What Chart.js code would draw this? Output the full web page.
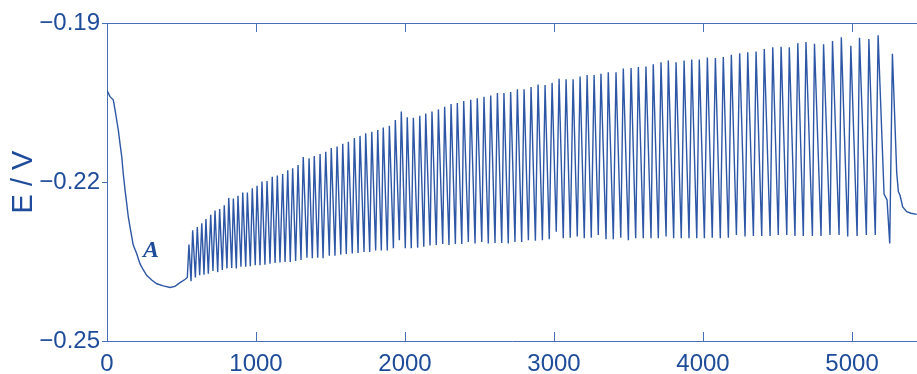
<!DOCTYPE html>
<html>
<head>
<meta charset="utf-8">
<script src="https://cdn.jsdelivr.net/npm/chart.js@4.4.1/dist/chart.umd.min.js"></script>
<style>
  html, body { margin: 0; padding: 0; background: #ffffff; overflow: hidden; }
  canvas { display: block; }
</style>
</head>
<body>
<canvas id="c" width="917" height="374"></canvas>
<script>
// Potential transient before the oscillations start (t in s, E in V)
const preTime = [0, 20, 42, 54, 65, 76, 87, 99, 109, 121, 132, 143, 154, 166, 176, 199, 221, 244, 266, 300, 334, 378, 423, 456, 490, 523, 539];
const preE = [-0.2027, -0.2039, -0.2045, -0.2064, -0.2083, -0.2102, -0.2127, -0.2152, -0.2184, -0.2215, -0.2240, -0.2266, -0.2284, -0.2303, -0.2319, -0.2335, -0.2354, -0.2366, -0.2376, -0.2385, -0.2392, -0.2396, -0.2399, -0.2397, -0.2390, -0.2384, -0.2380];

// Oscillation maxima
const peakTime = [
  550, 575, 606, 636, 664, 696, 725, 756, 787, 817,
  848, 879, 911, 942, 975, 1007, 1040, 1074, 1109, 1143,
  1179, 1213, 1246, 1282, 1317, 1356, 1391, 1430, 1468, 1505,
  1544, 1582, 1620, 1660, 1698, 1736, 1777, 1817, 1854, 1895,
  1935, 1975, 2015, 2056, 2099, 2139, 2181, 2224, 2266, 2309,
  2351, 2394, 2441, 2485, 2530, 2575, 2620, 2664, 2709, 2754,
  2799, 2846, 2893, 2940, 2987, 3034, 3081, 3128, 3175, 3222,
  3269, 3315, 3364, 3416, 3465, 3517, 3566, 3617, 3666, 3718,
  3767, 3819, 3873, 3924, 3975, 4029, 4083, 4136, 4190, 4246,
  4300, 4356, 4411, 4468, 4524, 4579, 4636, 4691, 4748, 4809,
  4869, 4928, 4992, 5050, 5113, 5175
];
const peakE = [
  -0.2318, -0.2291, -0.2285, -0.2278, -0.2270, -0.2262, -0.2254, -0.2251, -0.2244, -0.2230,
  -0.2231, -0.2226, -0.2220, -0.2220, -0.2212, -0.2207, -0.2199, -0.2198, -0.2190, -0.2188,
  -0.2185, -0.2178, -0.2174, -0.2168, -0.2153, -0.2155, -0.2151, -0.2147, -0.2143, -0.2136,
  -0.2133, -0.2128, -0.2124, -0.2117, -0.2113, -0.2108, -0.2105, -0.2102, -0.2097, -0.2094,
  -0.2083, -0.2067, -0.2078, -0.2079, -0.2075, -0.2071, -0.2067, -0.2063, -0.2058, -0.2053,
  -0.2051, -0.2047, -0.2045, -0.2042, -0.2039, -0.2037, -0.2032, -0.2032, -0.2030, -0.2025,
  -0.2025, -0.2021, -0.2016, -0.2017, -0.2013, -0.2005, -0.2006, -0.2006, -0.2001, -0.1998,
  -0.1998, -0.1996, -0.1993, -0.1993, -0.1986, -0.1985, -0.1983, -0.1982, -0.1978, -0.1974,
  -0.1971, -0.1974, -0.1971, -0.1969, -0.1969, -0.1965, -0.1966, -0.1964, -0.1960, -0.1957,
  -0.1955, -0.1954, -0.1949, -0.1946, -0.1945, -0.1946, -0.1938, -0.1936, -0.1939, -0.1940,
  -0.1934, -0.1927, -0.1943, -0.1928, -0.1930, -0.1923
];

// Oscillation minima (each one just before the 2nd ... last maximum)
const troughTime = [
  564, 593, 622, 651, 680, 711, 743, 774, 805, 837,
  868, 899, 931, 962, 995, 1027, 1060, 1094, 1128, 1161,
  1195, 1230, 1266, 1302, 1342, 1378, 1414, 1450, 1492, 1530,
  1569, 1606, 1646, 1685, 1725, 1763, 1803, 1841, 1881, 1922,
  1962, 2002, 2042, 2085, 2126, 2168, 2210, 2253, 2295, 2338,
  2381, 2425, 2470, 2515, 2559, 2604, 2649, 2693, 2738, 2783,
  2828, 2875, 2922, 2968, 3015, 3062, 3109, 3156, 3203, 3250,
  3297, 3349, 3398, 3448, 3499, 3548, 3599, 3651, 3700, 3752,
  3803, 3854, 3906, 3958, 4009, 4062, 4116, 4170, 4224, 4282,
  4338, 4394, 4450, 4505, 4562, 4617, 4673, 4734, 4792, 4852,
  4913, 4971, 5034, 5096, 5156
];
const troughE = [
  -0.2387, -0.2380, -0.2376, -0.2375, -0.2373, -0.2368, -0.2370, -0.2366, -0.2363, -0.2362,
  -0.2363, -0.2360, -0.2360, -0.2359, -0.2357, -0.2357, -0.2356, -0.2354, -0.2353, -0.2352,
  -0.2351, -0.2351, -0.2349, -0.2347, -0.2343, -0.2344, -0.2343, -0.2344, -0.2339, -0.2339,
  -0.2337, -0.2336, -0.2335, -0.2334, -0.2332, -0.2332, -0.2329, -0.2329, -0.2329, -0.2325,
  -0.2310, -0.2325, -0.2325, -0.2324, -0.2322, -0.2320, -0.2319, -0.2317, -0.2319, -0.2317,
  -0.2317, -0.2313, -0.2316, -0.2313, -0.2316, -0.2315, -0.2315, -0.2316, -0.2313, -0.2313,
  -0.2310, -0.2311, -0.2310, -0.2308, -0.2294, -0.2306, -0.2305, -0.2303, -0.2306, -0.2305,
  -0.2300, -0.2308, -0.2308, -0.2305, -0.2310, -0.2306, -0.2306, -0.2306, -0.2306, -0.2303,
  -0.2306, -0.2306, -0.2306, -0.2306, -0.2306, -0.2305, -0.2306, -0.2305, -0.2300, -0.2303,
  -0.2302, -0.2302, -0.2302, -0.2300, -0.2300, -0.2302, -0.2302, -0.2302, -0.2302, -0.2300,
  -0.2300, -0.2303, -0.2302, -0.2300, -0.2300
];

// Final spike and relaxation to the steady state
const tailTime = [5215, 5235, 5253, 5271, 5300, 5311, 5322, 5340, 5367, 5396, 5434];
const tailE = [-0.2223, -0.2234, -0.2316, -0.1958, -0.2183, -0.2218, -0.2225, -0.2247, -0.2256, -0.2259, -0.2261];

// Axes
const xTicks = [0, 1000, 2000, 3000, 4000, 5000];
const xTickLabels = ['0', '1000', '2000', '3000', '4000', '5000'];
const yTicks = [-0.25, -0.22, -0.19];
const yTickLabels = ['\u22120.25', '\u22120.22', '\u22120.19'];
const xMin = 0, xMax = 5436;
const yMin = -0.25, yMax = -0.19;
const yTitle = 'E / V';

// Region marker
const markText = 'A';
const markTime = 295;
const markE = -0.2330;

const LINE = '#2d57a6';
const TEXT = '#1e4c9a';
const AXIS = '#4670b5';

// Assemble the potential trace in time order
const trace = [];
preTime.forEach((t, i) => trace.push({ x: t, y: preE[i] }));
peakTime.forEach((t, i) => {
  if (i > 0) trace.push({ x: troughTime[i - 1], y: troughE[i - 1] });
  trace.push({ x: t, y: peakE[i] });
});
tailTime.forEach((t, i) => trace.push({ x: t, y: tailE[i] }));

// Box top edge, inward x ticks, outward y ticks and the region marker
const framePlugin = {
  id: 'frame',
  afterDatasetsDraw(chart) {
    const { ctx, chartArea: a, scales: { x, y } } = chart;
    ctx.save();
    ctx.strokeStyle = AXIS;
    ctx.lineWidth = 1;
    ctx.beginPath();
    ctx.moveTo(a.left, a.top + 0.5);
    ctx.lineTo(a.right, a.top + 0.5);
    xTicks.forEach(v => {
      const px = Math.round(x.getPixelForValue(v)) + 0.5;
      ctx.moveTo(px, a.top);
      ctx.lineTo(px, a.top + 9);
      ctx.moveTo(px, a.bottom);
      ctx.lineTo(px, a.bottom - 9);
    });
    yTicks.forEach(v => {
      const py = Math.round(y.getPixelForValue(v)) + 0.5;
      ctx.moveTo(a.left - 5, py);
      ctx.lineTo(a.left, py);
    });
    ctx.stroke();

    ctx.fillStyle = TEXT;
    ctx.font = 'bold italic 24px "Liberation Serif", "DejaVu Serif", serif';
    ctx.textAlign = 'center';
    ctx.textBaseline = 'middle';
    ctx.fillText(markText, x.getPixelForValue(markTime), y.getPixelForValue(markE));
    ctx.restore();
  }
};

new Chart(document.getElementById('c'), {
  type: 'line',
  data: {
    datasets: [{
      data: trace,
      borderColor: LINE,
      borderWidth: 1.4,
      pointRadius: 0,
      tension: 0,
      fill: false
    }]
  },
  options: {
    responsive: false,
    animation: false,
    parsing: false,
    normalized: true,
    layout: { padding: { top: 23, right: 0, bottom: 0, left: 0 } },
    plugins: { legend: { display: false }, tooltip: { enabled: false } },
    scales: {
      x: {
        type: 'linear',
        min: xMin,
        max: xMax,
        afterBuildTicks: s => { s.ticks = xTicks.map(v => ({ value: v })); },
        afterFit: s => { s.height = 33; },
        grid: { display: false, drawTicks: false },
        border: { display: true, color: AXIS, width: 1 },
        ticks: {
          color: TEXT,
          padding: 9,
          maxRotation: 0,
          autoSkip: false,
          font: { family: '"Liberation Sans", Arial, sans-serif', size: 24 },
          callback: (v, i) => xTickLabels[i]
        }
      },
      y: {
        type: 'linear',
        min: yMin,
        max: yMax,
        afterBuildTicks: s => { s.ticks = yTicks.map(v => ({ value: v })); },
        afterFit: s => { s.width = 107; },
        grid: { display: false, drawTicks: false },
        border: { display: true, color: AXIS, width: 1 },
        title: {
          display: true,
          text: yTitle,
          color: TEXT,
          padding: { top: 7, bottom: 0 },
          font: { family: '"Liberation Sans", Arial, sans-serif', size: 29 }
        },
        ticks: {
          color: TEXT,
          padding: 7,
          autoSkip: false,
          font: { family: '"Liberation Sans", Arial, sans-serif', size: 24 },
          callback: (v, i) => yTickLabels[i]
        }
      }
    }
  },
  plugins: [framePlugin]
});
</script>
</body>
</html>
